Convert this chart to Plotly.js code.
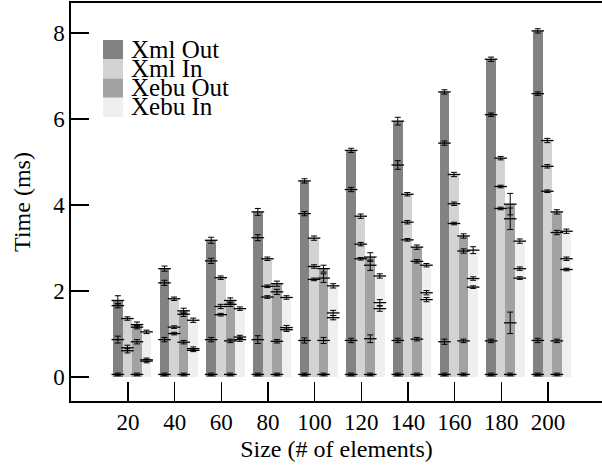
<!DOCTYPE html>
<html>
<head>
<meta charset="utf-8">
<script src="https://cdn.plot.ly/plotly-3.0.1.min.js"></script>
<style>html,body{margin:0;padding:0;background:#fff;}#chart{width:602px;height:465px;}</style>
</head>
<body>
<div id="chart"></div>
<script>
// ---- data ----
const sizes = [20, 40, 60, 80, 100, 120, 140, 160, 180, 200];
const sizeLabels = ['20', '40', '60', '80', '100', '120', '140', '160', '180', '200'];
const seriesNames = ['Xml Out', 'Xml In', 'Xebu Out', 'Xebu In'];

// Xml Out levels
const xmlOutTop  = [1.78, 2.52, 3.18, 3.84, 4.56, 5.27, 5.95, 6.63, 7.39, 8.05];
const xmlOutMid  = [1.66, 2.19, 2.70, 3.24, 3.80, 4.36, 4.93, 5.44, 6.10, 6.59];
const xmlOutLow  = [0.87, 0.87, 0.87, 0.87, 0.85, 0.85, 0.85, 0.82, 0.84, 0.85];
const xmlOutBase = [0.06, 0.06, 0.06, 0.06, 0.06, 0.06, 0.06, 0.06, 0.06, 0.06];
const xmlOutTopErr  = [0.11, 0.06, 0.07, 0.08, 0.05, 0.05, 0.09, 0.05, 0.05, 0.05];
const xmlOutMidErr  = [0.05, 0.06, 0.06, 0.07, 0.05, 0.05, 0.10, 0.05, 0.04, 0.04];
const xmlOutLowErr  = [0.08, 0.05, 0.05, 0.09, 0.06, 0.05, 0.05, 0.06, 0.04, 0.05];
const xmlOutBaseErr = [0.03, 0.03, 0.03, 0.03, 0.03, 0.03, 0.03, 0.03, 0.03, 0.03];

// Xml In levels
const xmlInTop = [1.36, 1.82, 2.31, 2.75, 3.23, 3.74, 4.25, 4.71, 5.09, 5.50];
const xmlInMid = [0.68, 1.16, 1.64, 2.11, 2.57, 3.09, 3.60, 4.03, 4.43, 4.90];
const xmlInLow = [0.61, 1.01, 1.45, 1.86, 2.27, 2.75, 3.19, 3.57, 3.92, 4.32];
const xmlInTopErr = [0.04, 0.04, 0.04, 0.04, 0.05, 0.05, 0.04, 0.05, 0.04, 0.05];
const xmlInMidErr = [0.06, 0.03, 0.05, 0.03, 0.04, 0.04, 0.04, 0.04, 0.03, 0.04];
const xmlInLowErr = [0.05, 0.03, 0.03, 0.03, 0.03, 0.03, 0.03, 0.03, 0.03, 0.03];

// Xebu Out levels
const xebuOutTop  = [1.22, 1.54, 1.78, 2.17, 2.52, 2.79, 3.02, 3.28, 4.02, 3.84];
const xebuOutMid  = [1.16, 1.46, 1.69, 1.98, 2.30, 2.60, 2.69, 2.93, 3.68, 3.36];
const xebuOutLow  = [0.82, 0.81, 0.84, 0.83, 0.85, 0.89, 0.88, 0.84, 1.26, 0.84];
const xebuOutBase = [0.06, 0.06, 0.06, 0.06, 0.06, 0.06, 0.06, 0.06, 0.06, 0.06];
const xebuOutTopErr  = [0.06, 0.06, 0.06, 0.06, 0.08, 0.10, 0.05, 0.05, 0.25, 0.05];
const xebuOutMidErr  = [0.04, 0.05, 0.05, 0.06, 0.10, 0.12, 0.04, 0.05, 0.25, 0.05];
const xebuOutLowErr  = [0.05, 0.04, 0.04, 0.04, 0.07, 0.09, 0.04, 0.04, 0.25, 0.04];
const xebuOutBaseErr = [0.03, 0.03, 0.03, 0.03, 0.03, 0.03, 0.03, 0.03, 0.03, 0.03];

// Xebu In levels
const xebuInTop = [1.05, 1.32, 1.59, 1.85, 2.12, 2.35, 2.60, 2.95, 3.16, 3.39];
const xebuInMid = [0.40, 0.66, 0.93, 1.15, 1.49, 1.73, 1.96, 2.29, 2.52, 2.75];
const xebuInLow = [0.37, 0.62, 0.87, 1.10, 1.38, 1.59, 1.80, 2.09, 2.30, 2.50];
const xebuInTopErr = [0.04, 0.05, 0.04, 0.04, 0.05, 0.05, 0.04, 0.08, 0.05, 0.05];
const xebuInMidErr = [0.04, 0.04, 0.04, 0.05, 0.06, 0.07, 0.05, 0.04, 0.04, 0.04];
const xebuInLowErr = [0.04, 0.03, 0.04, 0.04, 0.05, 0.06, 0.05, 0.03, 0.03, 0.03];

// ---- styling ----
const colors = ['#828282', '#d3d3d3', '#a2a2a2', '#efefef'];
const barWidth = 4.11;
const barOffsets = [-6.4, -2.3, 1.8, 5.9];
const FONT = 'Liberation Serif, Times New Roman, serif';
const TICK_SIZE = 23, TITLE_SIZE = 24, LEGEND_SIZE = 25;

const series = [
  {levels: [xmlOutTop, xmlOutMid, xmlOutLow, xmlOutBase], errs: [xmlOutTopErr, xmlOutMidErr, xmlOutLowErr, xmlOutBaseErr]},
  {levels: [xmlInTop, xmlInMid, xmlInLow], errs: [xmlInTopErr, xmlInMidErr, xmlInLowErr]},
  {levels: [xebuOutTop, xebuOutMid, xebuOutLow, xebuOutBase], errs: [xebuOutTopErr, xebuOutMidErr, xebuOutLowErr, xebuOutBaseErr]},
  {levels: [xebuInTop, xebuInMid, xebuInLow], errs: [xebuInTopErr, xebuInMidErr, xebuInLowErr]}
];

const traces = [];
series.forEach((s, si) => {
  s.levels.forEach((lv, li) => {
    traces.push({
      type: 'bar', x: sizes, y: lv, width: barWidth, offset: barOffsets[si],
      marker: {color: colors[si], line: {width: 0}},
      name: seriesNames[si], showlegend: false, hoverinfo: 'skip'
    });
  });
});
series.forEach((s, si) => {
  const cx = sizes.map(v => v + barOffsets[si] + barWidth / 2);
  s.levels.forEach((lv, li) => {
    traces.push({
      type: 'scatter', mode: 'markers', x: cx, y: lv,
      marker: {symbol: 'line-ew', size: 9, color: '#000', line: {color: '#000', width: 1.3}},
      error_y: {type: 'data', array: s.errs[li], visible: true, color: '#000', thickness: 1, width: 3},
      showlegend: false, hoverinfo: 'skip', cliponaxis: false
    });
  });
});

// legend (manual, to match compact spacing)
const L = 71, R = 602, T = 3, B = 401;
const px = v => (v - L) / (R - L);
const py = v => (B - v) / (B - T);
const shapes = [];
const annotations = [];
seriesNames.forEach((n, i) => {
  const y0 = 40 + i * 19.25, y1 = y0 + 19.25;
  shapes.push({type: 'rect', xref: 'paper', yref: 'paper', x0: px(103), x1: px(123), y0: py(y1), y1: py(y0),
    fillcolor: colors[i], line: {width: 0}, layer: 'above'});
  annotations.push({xref: 'paper', yref: 'paper', x: px(129), y: py(49.5 + i * 19.1), xanchor: 'left', yanchor: 'middle',
    text: n, showarrow: false, font: {family: FONT, size: LEGEND_SIZE, color: '#000'}});
});

const layout = {
  width: 602, height: 465,
  margin: {l: L, r: 602 - R, t: T, b: 465 - B},
  paper_bgcolor: '#fff', plot_bgcolor: '#fff',
  barmode: 'overlay', bargap: 0,
  showlegend: false,
  font: {family: FONT, size: TICK_SIZE, color: '#000'},
  xaxis: {
    range: [-4.43, 223.2], tickvals: sizes, ticktext: sizeLabels,
    ticks: 'inside', ticklen: 19, tickwidth: 1.3, tickcolor: '#000',
    showline: true, linewidth: 1.6, linecolor: '#000', mirror: true,
    showgrid: false, zeroline: false,
    tickfont: {family: FONT, size: TICK_SIZE, color: '#000'},
    title: {text: 'Size (# of elements)', font: {family: FONT, size: TITLE_SIZE, color: '#000'}, standoff: 6}
  },
  yaxis: {
    range: [-0.558, 8.698], tickvals: [0, 2, 4, 6, 8], ticktext: ['0', '2', '4', '6', '8'],
    ticks: 'inside', ticklen: 18, tickwidth: 1.3, tickcolor: '#000',
    showline: true, linewidth: 1.6, linecolor: '#000', mirror: false,
    showgrid: false, zeroline: false,
    tickfont: {family: FONT, size: TICK_SIZE, color: '#000'},
    title: {text: 'Time (ms)', font: {family: FONT, size: TITLE_SIZE, color: '#000'}, standoff: 16}
  },
  shapes: shapes,
  annotations: annotations
};

Plotly.newPlot('chart', traces, layout, {staticPlot: true, displayModeBar: false});
</script>
</body>
</html>
